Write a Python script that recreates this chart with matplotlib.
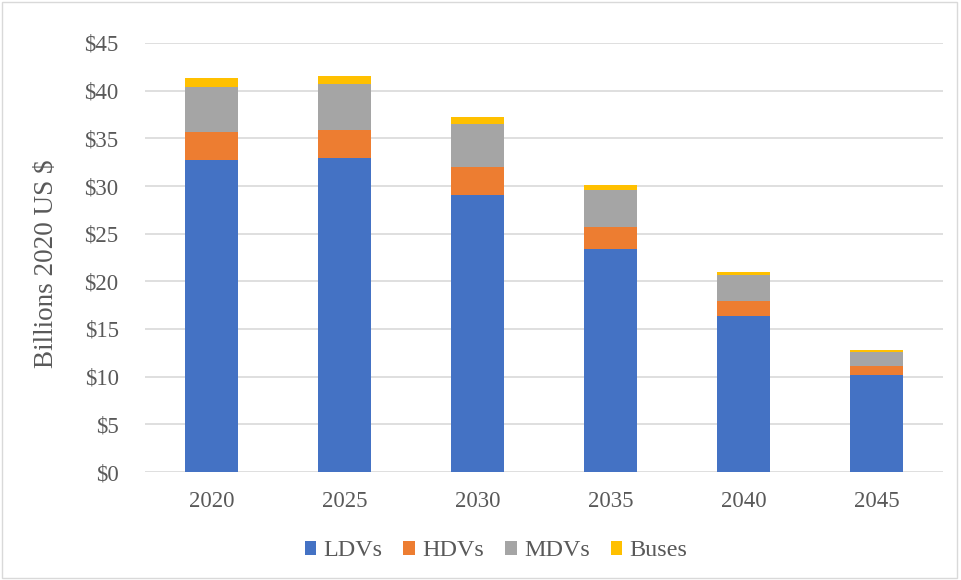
import numpy as np
import matplotlib.pyplot as plt
from matplotlib.patches import Rectangle

years = ['2020', '2025', '2030', '2035', '2040', '2045']
ldv = [32.7, 32.9, 29.1, 23.35, 16.4, 10.15]
hdv = [2.95, 3.0, 2.85, 2.3, 1.5, 0.95]
mdv = [4.75, 4.8, 4.55, 3.9, 2.75, 1.5]
buses = [0.9, 0.85, 0.75, 0.6, 0.35, 0.2]

series = [('LDVs', ldv, '#4472C4'), ('HDVs', hdv, '#ED7D31'),
          ('MDVs', mdv, '#A5A5A5'), ('Buses', buses, '#FFC000')]

plt.rcParams['font.family'] = ['Liberation Serif', 'DejaVu Serif']

fig = plt.figure(figsize=(9.61, 5.8), dpi=100)
ax = fig.add_axes([145/961, 1 - 472/580, (943-145)/961, (472-43)/580])

x = np.arange(len(years))
bottom = np.zeros(len(years))
for name, vals, col in series:
    ax.bar(x, vals, width=0.4, bottom=bottom, color=col, label=name, zorder=3)
    bottom += np.array(vals)

ax.set_xlim(-0.5, len(years) - 0.5)
ax.set_ylim(0, 45)
ax.set_yticks(range(0, 50, 5))
ax.set_yticklabels(['$%d' % v for v in range(0, 50, 5)])
ax.set_xticks(x)
ax.set_xticklabels(years)
ax.tick_params(axis='both', length=0, labelsize=16.5, labelcolor='#595959')
ax.tick_params(axis='y', pad=19)
ax.tick_params(axis='x', pad=14)
ax.grid(axis='y', color='#d9d9d9', linewidth=1.2, zorder=0)
for s in ax.spines.values():
    s.set_visible(False)

fig.text(47/961, 1 - 264/580, 'Billions 2020 US $', rotation=90, fontsize=19.5,
         color='#595959', ha='center', va='center')

ax.legend(loc='center', bbox_to_anchor=(496/961, 1 - 551/580),
          bbox_transform=fig.transFigure, ncol=4, frameon=False,
          fontsize=17.4, handlelength=0.48, handleheight=0.48, handletextpad=0.3,
          columnspacing=0.87, labelcolor='#595959')

fig.patches.append(Rectangle((0.002, 0.003), 0.994, 0.994, transform=fig.transFigure,
                             fill=False, edgecolor='#d9d9d9', linewidth=1))

fig.savefig('out.png', dpi=100)
